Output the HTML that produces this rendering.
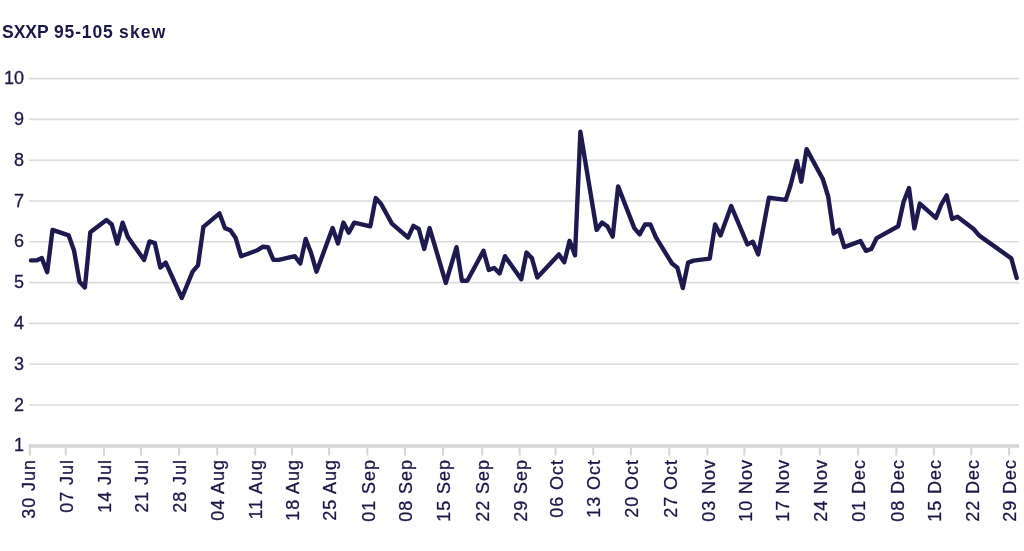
<!DOCTYPE html>
<html><head><meta charset="utf-8"><style>
html,body{margin:0;padding:0;background:#fff;width:1024px;height:551px;overflow:hidden}
svg{display:block;will-change:transform}
text{font-family:"Liberation Sans",sans-serif;fill:#1b1748}
</style></head><body>
<svg width="1024" height="551" viewBox="0 0 1024 551">
<g font-size="17.5" font-weight="bold"><text x="2" y="38">SXXP</text><text x="54" y="38" letter-spacing="0.85">95-105</text><text x="119" y="38" letter-spacing="1.2">skew</text></g>
<g stroke="#dcdcdc" stroke-width="1.6"><line x1="29" x2="1019" y1="405.0" y2="405.0"/><line x1="29" x2="1019" y1="364.2" y2="364.2"/><line x1="29" x2="1019" y1="323.4" y2="323.4"/><line x1="29" x2="1019" y1="282.6" y2="282.6"/><line x1="29" x2="1019" y1="241.8" y2="241.8"/><line x1="29" x2="1019" y1="201.0" y2="201.0"/><line x1="29" x2="1019" y1="160.2" y2="160.2"/><line x1="29" x2="1019" y1="119.4" y2="119.4"/><line x1="29" x2="1019" y1="78.6" y2="78.6"/></g>
<line x1="28.8" x2="1019" y1="446" y2="446" stroke="#d6d6d6" stroke-width="3.5"/>
<g stroke="#d6d6d6" stroke-width="2"><line x1="29.8" x2="29.8" y1="446" y2="455.5"/><line x1="65.7" x2="65.7" y1="446" y2="455.5"/><line x1="104.0" x2="104.0" y1="446" y2="455.5"/><line x1="141.0" x2="141.0" y1="446" y2="455.5"/><line x1="179.1" x2="179.1" y1="446" y2="455.5"/><line x1="217.2" x2="217.2" y1="446" y2="455.5"/><line x1="255.2" x2="255.2" y1="446" y2="455.5"/><line x1="292.0" x2="292.0" y1="446" y2="455.5"/><line x1="329.1" x2="329.1" y1="446" y2="455.5"/><line x1="367.4" x2="367.4" y1="446" y2="455.5"/><line x1="405.0" x2="405.0" y1="446" y2="455.5"/><line x1="443.0" x2="443.0" y1="446" y2="455.5"/><line x1="482.2" x2="482.2" y1="446" y2="455.5"/><line x1="519.6" x2="519.6" y1="446" y2="455.5"/><line x1="555.6" x2="555.6" y1="446" y2="455.5"/><line x1="593.2" x2="593.2" y1="446" y2="455.5"/><line x1="630.9" x2="630.9" y1="446" y2="455.5"/><line x1="669.3" x2="669.3" y1="446" y2="455.5"/><line x1="707.4" x2="707.4" y1="446" y2="455.5"/><line x1="744.4" x2="744.4" y1="446" y2="455.5"/><line x1="781.3" x2="781.3" y1="446" y2="455.5"/><line x1="819.8" x2="819.8" y1="446" y2="455.5"/><line x1="858.1" x2="858.1" y1="446" y2="455.5"/><line x1="896.4" x2="896.4" y1="446" y2="455.5"/><line x1="933.9" x2="933.9" y1="446" y2="455.5"/><line x1="971.3" x2="971.3" y1="446" y2="455.5"/><line x1="1009.1" x2="1009.1" y1="446" y2="455.5"/></g>
<g font-size="18" text-anchor="end" stroke="#1b1748" stroke-width="0.3"><text x="24" y="451.4">1</text><text x="24" y="410.6">2</text><text x="24" y="369.8">3</text><text x="24" y="329.0">4</text><text x="24" y="288.2">5</text><text x="24" y="247.4">6</text><text x="24" y="206.6">7</text><text x="24" y="165.8">8</text><text x="24" y="125.0">9</text><text x="24" y="84.2">10</text></g>
<g font-size="18" text-anchor="end" letter-spacing="0.9" stroke="#1b1748" stroke-width="0.3"><text transform="translate(28.2 459.2) rotate(-90)" x="0" y="6.4">30 Jun</text><text transform="translate(66.5 459.2) rotate(-90)" x="0" y="6.4">07 Jul</text><text transform="translate(104.8 459.2) rotate(-90)" x="0" y="6.4">14 Jul</text><text transform="translate(141.8 459.2) rotate(-90)" x="0" y="6.4">21 Jul</text><text transform="translate(179.9 459.2) rotate(-90)" x="0" y="6.4">28 Jul</text><text transform="translate(218.0 459.2) rotate(-90)" x="0" y="6.4">04 Aug</text><text transform="translate(256.0 459.2) rotate(-90)" x="0" y="6.4">11 Aug</text><text transform="translate(292.8 459.2) rotate(-90)" x="0" y="6.4">18 Aug</text><text transform="translate(329.9 459.2) rotate(-90)" x="0" y="6.4">25 Aug</text><text transform="translate(368.2 459.2) rotate(-90)" x="0" y="6.4">01 Sep</text><text transform="translate(405.8 459.2) rotate(-90)" x="0" y="6.4">08 Sep</text><text transform="translate(443.8 459.2) rotate(-90)" x="0" y="6.4">15 Sep</text><text transform="translate(483.0 459.2) rotate(-90)" x="0" y="6.4">22 Sep</text><text transform="translate(520.4 459.2) rotate(-90)" x="0" y="6.4">29 Sep</text><text transform="translate(556.4 459.2) rotate(-90)" x="0" y="6.4">06 Oct</text><text transform="translate(594.0 459.2) rotate(-90)" x="0" y="6.4">13 Oct</text><text transform="translate(631.7 459.2) rotate(-90)" x="0" y="6.4">20 Oct</text><text transform="translate(670.1 459.2) rotate(-90)" x="0" y="6.4">27 Oct</text><text transform="translate(708.2 459.2) rotate(-90)" x="0" y="6.4">03 Nov</text><text transform="translate(745.2 459.2) rotate(-90)" x="0" y="6.4">10 Nov</text><text transform="translate(782.1 459.2) rotate(-90)" x="0" y="6.4">17 Nov</text><text transform="translate(820.6 459.2) rotate(-90)" x="0" y="6.4">24 Nov</text><text transform="translate(858.9 459.2) rotate(-90)" x="0" y="6.4">01 Dec</text><text transform="translate(897.2 459.2) rotate(-90)" x="0" y="6.4">08 Dec</text><text transform="translate(934.7 459.2) rotate(-90)" x="0" y="6.4">15 Dec</text><text transform="translate(972.1 459.2) rotate(-90)" x="0" y="6.4">22 Dec</text><text transform="translate(1009.9 459.2) rotate(-90)" x="0" y="6.4">29 Dec</text></g>
<path d="M31.0 260.4 L36.4 260.4 L41.8 258.1 L47.2 272.2 L52.5 229.9 L68.7 235.4 L74.1 250.8 L79.5 281.7 L84.9 287.5 L90.3 232.3 L106.4 220.0 L111.8 224.5 L117.2 243.6 L122.6 222.7 L128.0 237.2 L144.1 259.9 L149.5 241.4 L154.9 243.2 L160.3 267.5 L165.7 262.6 L181.8 298.0 L192.6 271.7 L198.0 265.3 L203.4 226.9 L219.5 213.4 L224.9 228.1 L230.3 230.3 L235.7 238.1 L241.1 256.2 L257.2 250.3 L262.6 246.8 L268.0 247.2 L273.4 259.9 L278.8 259.9 L294.9 256.2 L300.3 263.5 L305.7 239.0 L311.1 253.0 L316.5 271.7 L332.6 228.1 L338.0 243.5 L343.4 222.6 L348.8 232.6 L354.2 222.6 L370.3 226.3 L375.7 198.1 L381.1 204.0 L391.9 223.6 L408.0 237.5 L413.4 225.9 L418.8 229.0 L424.2 249.0 L429.6 228.1 L445.8 282.9 L456.5 247.2 L461.9 280.7 L467.3 280.7 L483.5 250.8 L488.8 269.9 L494.2 268.0 L499.6 273.5 L505.0 256.2 L521.2 279.3 L526.5 252.6 L531.9 258.1 L537.3 277.5 L558.9 254.4 L564.3 262.2 L569.6 240.8 L575.0 255.3 L580.4 131.8 L596.6 229.9 L602.0 222.6 L607.3 226.3 L612.7 236.6 L618.1 186.4 L634.3 228.1 L639.7 234.4 L645.0 224.5 L650.4 224.5 L655.8 237.2 L672.0 263.5 L677.4 267.7 L682.8 288.0 L688.1 262.6 L693.5 260.6 L709.7 258.6 L715.1 224.5 L720.5 235.4 L731.2 206.0 L747.4 244.4 L752.8 241.7 L758.2 254.4 L768.9 197.8 L785.8 199.9 L790.5 185.5 L796.9 160.9 L801.3 181.7 L806.6 149.1 L822.8 179.0 L828.2 196.5 L833.6 233.5 L839.0 229.9 L844.3 247.1 L860.5 241.1 L865.9 250.8 L871.3 248.9 L876.7 238.1 L898.2 226.3 L903.6 201.8 L909.0 188.1 L914.4 228.4 L919.8 203.6 L935.9 217.8 L941.3 204.5 L946.7 195.4 L952.1 219.0 L957.5 216.7 L973.6 229.0 L979.0 235.4 L1011.3 258.4 L1016.7 278.0" fill="none" stroke="#1e1a50" stroke-width="4.4" stroke-linejoin="round" stroke-linecap="round"/>
</svg>
</body></html>
